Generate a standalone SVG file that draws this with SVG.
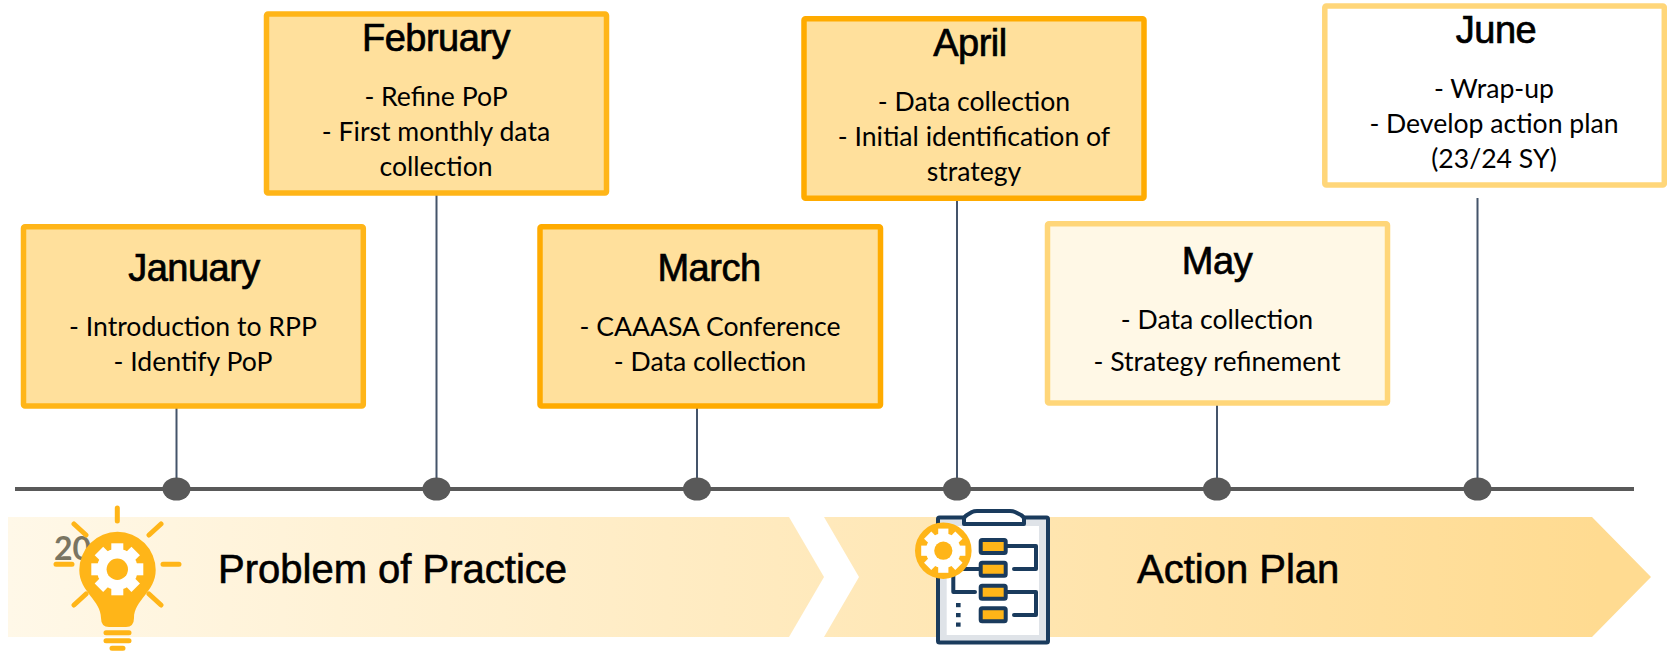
<svg xmlns="http://www.w3.org/2000/svg" xmlns:xlink="http://www.w3.org/1999/xlink" width="1667" height="655" viewBox="0 0 1667 655">
<style>
.box{stroke-width:5.5}
.strong{fill:#FFE09C;stroke:#FFB518}
.strong2{fill:#FFE09C;stroke:#FFAB00}
.pale{fill:#FFF8E6;stroke:#FFD679}
.blank{fill:#FFFFFF;stroke:#FFD679}
.title{font-family:"Liberation Sans",Arial,sans-serif;font-size:38px;letter-spacing:-.5px;text-anchor:middle;fill:#000;stroke:#000;stroke-width:.7px}
.body{font-family:Lato,"Liberation Sans",sans-serif;font-size:26.6px;text-anchor:middle;fill:#000}
.band{font-family:"Liberation Sans",Arial,sans-serif;font-size:40px;fill:#000;stroke:#000;stroke-width:.6px}
.stem{stroke:#44546A;stroke-width:2;fill:none}
.dot{fill:#595959}
.ray{stroke:#FFB518;stroke-width:5;stroke-linecap:round;fill:none}
.navy{stroke:#1A3B5D;stroke-width:4;fill:none;stroke-linecap:round;stroke-linejoin:round}
.mini{fill:#FFB518;stroke:#1A3B5D;stroke-width:4;stroke-linejoin:round}
</style>
<defs>
<linearGradient id="bandFill" gradientUnits="userSpaceOnUse" x1="8" y1="0" x2="1600" y2="0">
<stop offset="0" stop-color="#FFF8E8"/><stop offset="1" stop-color="#FFDB91"/>
</linearGradient>
<g id="gear">
<circle r="20.5" fill="#FFFFFF"/>
<g fill="#FFFFFF">
<rect x="-6" y="-26" width="12" height="9"/>
<rect x="-6" y="-26" width="12" height="9" transform="rotate(45)"/>
<rect x="-6" y="-26" width="12" height="9" transform="rotate(90)"/>
<rect x="-6" y="-26" width="12" height="9" transform="rotate(135)"/>
<rect x="-6" y="-26" width="12" height="9" transform="rotate(180)"/>
<rect x="-6" y="-26" width="12" height="9" transform="rotate(225)"/>
<rect x="-6" y="-26" width="12" height="9" transform="rotate(270)"/>
<rect x="-6" y="-26" width="12" height="9" transform="rotate(315)"/>
</g>
<circle r="10.7" fill="#FFB518"/>
</g>
</defs>
<rect width="1667" height="655" fill="#FFFFFF"/>

<g id="bands">
<polygon points="8,517 789,517 824,577 789,637 8,637" fill="url(#bandFill)"/>
<polygon points="824,517 1592,517 1651,577 1592,637 824,637 859,577" fill="url(#bandFill)"/>
<text class="band" x="218" y="583">Problem of Practice</text>
<text class="band" x="1137" y="583">Action Plan</text>
</g>

<g id="connectors">
<line x1="15" y1="489" x2="1634" y2="489" stroke="#595959" stroke-width="4"/>
<line class="stem" x1="176.5" y1="406" x2="176.5" y2="489"/>
<line class="stem" x1="436.5" y1="193" x2="436.5" y2="489"/>
<line class="stem" x1="697" y1="406" x2="697" y2="489"/>
<line class="stem" x1="957" y1="198" x2="957" y2="489"/>
<line class="stem" x1="1217" y1="405" x2="1217" y2="489"/>
<line class="stem" x1="1477.5" y1="198" x2="1477.5" y2="489"/>
<ellipse class="dot" cx="176.5" cy="489" rx="14" ry="11.5"/>
<ellipse class="dot" cx="436.5" cy="489" rx="14" ry="11.5"/>
<ellipse class="dot" cx="697" cy="489" rx="14" ry="11.5"/>
<ellipse class="dot" cx="957" cy="489" rx="14" ry="11.5"/>
<ellipse class="dot" cx="1217" cy="489" rx="14" ry="11.5"/>
<ellipse class="dot" cx="1477.5" cy="489" rx="14" ry="11.5"/>
</g>

<g id="january">
<rect class="box strong" x="23.5" y="226.8" width="339.8" height="179.2" rx="1.5"/>
<text class="title" x="194" y="281">January</text>
<text class="body" x="193" y="335.5">- Introduction to RPP</text>
<text class="body" x="193" y="371">- Identify PoP</text>
</g>
<g id="february">
<rect class="box strong" x="266.5" y="14" width="340" height="179" rx="1.5"/>
<text class="title" x="436" y="50.5">February</text>
<text class="body" x="436" y="105.5">- Refine PoP</text>
<text class="body" x="436" y="140.5">- First monthly data</text>
<text class="body" x="436" y="175.5">collection</text>
</g>
<g id="march">
<rect class="box strong2" x="540" y="226.8" width="340.5" height="179.2" rx="1.5"/>
<text class="title" x="709" y="281">March</text>
<text class="body" x="710" y="336">- CAAASA Conference</text>
<text class="body" x="710" y="371">- Data collection</text>
</g>
<g id="april">
<rect class="box strong2" x="804" y="18.8" width="340" height="179.5" rx="1.5"/>
<text class="title" x="970" y="56">April</text>
<text class="body" x="974" y="110.5">- Data collection</text>
<text class="body" x="974" y="145.5">- Initial identification of</text>
<text class="body" x="974" y="180.5">strategy</text>
</g>
<g id="may">
<rect class="box pale" x="1047.5" y="223.8" width="340" height="179.2" rx="1.5"/>
<text class="title" x="1217" y="273.5">May</text>
<text class="body" x="1217" y="329">- Data collection</text>
<text class="body" x="1217" y="371">- Strategy refinement</text>
</g>
<g id="june">
<rect class="box blank" x="1324.8" y="6" width="339.5" height="179" rx="1.5"/>
<text class="title" x="1496" y="42.5">June</text>
<text class="body" x="1494" y="97.5">- Wrap-up</text>
<text class="body" x="1494" y="132.5">- Develop action plan</text>
<text class="body" x="1494" y="167.5">(23/24 SY)</text>
</g>

<g id="problem-icon">
<text x="54" y="560" font-family="Lato,'Liberation Sans',sans-serif" font-weight="700" font-size="32" fill="#7A7562">20</text>
<path class="ray" d="M117.3 508V521M163 564.3H179M56 564.3H72M74 524L86 535M161 524L149 535M86 594L74 605M149 594L161 605"/>
<path fill="#FFB518" d="M79.3 570A38.2 38.2 0 0 1 155.7 570C155.7 592 134 600 134 618Q134 627 126 627L109 627Q101 627 101 618C101 600 79.3 592 79.3 570Z"/>
<path class="ray" d="M106 632.7H129M106 640.7H129M112 648.3H123"/>
<use xlink:href="#gear" href="#gear" transform="translate(117.3 569.3)"/>
</g>

<g id="action-icon">
<rect x="938" y="517.5" width="110" height="125" rx="1.5" fill="#DFE3E8" stroke="#1A3B5D" stroke-width="4"/>
<rect x="946.7" y="526" width="92.3" height="109" fill="#FFFFFF"/>
<path d="M964 524V519Q964 517 967 515L972 512Q974 511 977 511H1010Q1013 511 1015 512L1021 515Q1024 517 1024 519V524Z" fill="#FFFFFF" stroke="#1A3B5D" stroke-width="4" stroke-linejoin="round"/>
<path class="navy" d="M1007 546H1036V569H1014M1007 592H1036V615H1014M960 569H979M953.3 560V592H975"/>
<rect class="mini" x="980.7" y="540" width="25" height="13" rx="1.5"/>
<rect class="mini" x="980.7" y="562.7" width="25" height="13" rx="1.5"/>
<rect class="mini" x="980.7" y="585.7" width="25" height="13" rx="1.5"/>
<rect class="mini" x="980.7" y="608.3" width="25" height="13" rx="1.5"/>
<rect x="956" y="603" width="4.6" height="4.2" fill="#1A3B5D"/>
<rect x="956" y="613" width="4.6" height="4.2" fill="#1A3B5D"/>
<rect x="956" y="622.5" width="4.6" height="4.2" fill="#1A3B5D"/>
<circle cx="943.3" cy="550.7" r="28.3" fill="#FFB518"/>
<use xlink:href="#gear" href="#gear" transform="translate(943.3 550.7) scale(.85)"/>
</g>
</svg>
